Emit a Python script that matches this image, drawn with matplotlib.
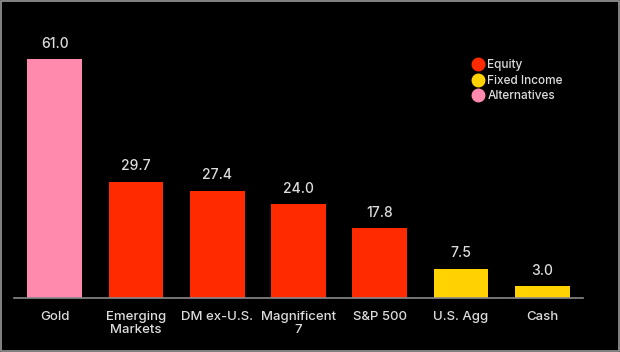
import matplotlib.pyplot as plt
from matplotlib.patches import Rectangle
from matplotlib.lines import Line2D

# Dados
categorias = ["Gold", "Emerging\nMarkets", "DM ex-U.S.", "Magnificent\n7", "S&P 500", "U.S. Agg", "Cash"]
valores = [61.0, 29.7, 27.4, 24.0, 17.8, 7.5, 3.0]
grupos = ["Alternatives", "Equity", "Equity", "Equity", "Equity", "Fixed Income", "Fixed Income"]

cores = {"Equity": "#ff2a00", "Fixed Income": "#ffd200", "Alternatives": "#ff8aae"}
texto = "#dcdcdc"

plt.rcParams['font.family'] = ['Inter', 'DejaVu Sans']

fig = plt.figure(figsize=(6.2, 3.52), dpi=100, facecolor="black")
ax = fig.add_axes([0.0226, 0.1534, 0.9177, 0.778])
ax.set_facecolor("black")

x = range(len(categorias))
barras = ax.bar(x, valores, width=0.675, color=[cores[g] for g in grupos])
for b, v in zip(barras, valores):
    ax.text(b.get_x() + b.get_width() / 2, v + 2.2, f"{v:.1f}", ha="center", va="bottom",
            color=texto, fontsize=10, fontweight="medium")

ax.set_xlim(-0.5, 6.5)
ax.set_ylim(0, 70)
ax.set_xticks(list(x))
ax.set_xticklabels(categorias, color=texto, fontsize=9.5, linespacing=1.2, fontweight="medium")
ax.tick_params(axis="x", length=0, pad=9)
ax.set_yticks([])
for s in ["top", "right", "left"]:
    ax.spines[s].set_visible(False)
ax.spines["bottom"].set_color("#8a8a8a")
ax.spines["bottom"].set_linewidth(1.2)

# Legenda
handles = [Line2D([], [], marker="o", linestyle="", markersize=9, markerfacecolor=cores[g],
                  markeredgecolor=cores[g], label=g) for g in ["Equity", "Fixed Income", "Alternatives"]]
leg = fig.legend(handles=handles, loc="upper left", bbox_to_anchor=(0.752, 0.845), frameon=False,
                 fontsize=8.5, handletextpad=0.2, labelspacing=0.3, handlelength=1.2, borderaxespad=0,
                 prop={"weight": "medium", "size": 8.5})
for t in leg.get_texts():
    t.set_color(texto)

# Moldura cinza
fig.patches.append(Rectangle((0.002, 0.003), 0.996, 0.993, transform=fig.transFigure,
                             fill=False, edgecolor="#9a9a9a", linewidth=1.2))

plt.savefig("out.png", dpi=100, facecolor=fig.get_facecolor())
